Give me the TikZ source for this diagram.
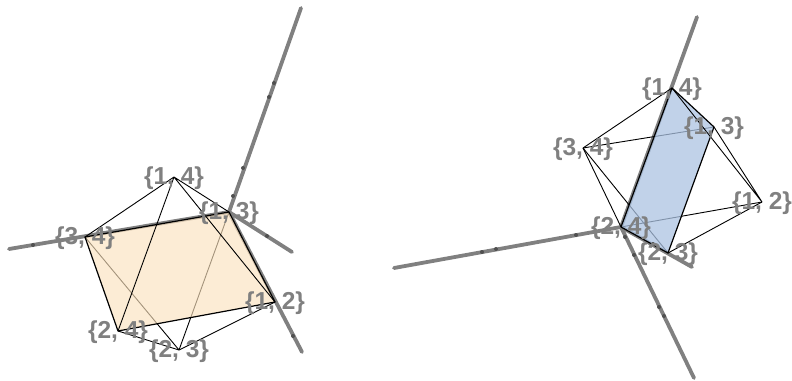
\documentclass[tikz,border=0pt]{standalone}
\usepackage{fontspec}
\setmainfont{Liberation Sans}
\usepackage{xcolor}
\usepackage{tikz}
\definecolor{axisgray}{RGB}{128,128,128}
\definecolor{dotgray}{RGB}{80,80,80}
\definecolor{lightorange}{RGB}{251,226,190}
\definecolor{lightblue}{RGB}{172,195,226}

\begin{document}
\begin{tikzpicture}[
    x=1pt, y=-1pt,
    axisline/.style={draw=axisgray, line width=3.8pt, line cap=round},
    edgeline/.style={draw=black, line width=0.9pt, line join=round},
    frontedge/.style={draw=black, line width=1.2pt, line join=round},
    vertexlabel/.style={font=\bfseries\fontsize{24.5}{24.5}\selectfont, text=axisgray,
                    inner sep=0pt, yshift=-1.5pt},
    axisdot/.style={fill=dotgray},
]
    \useasboundingbox (0,0) rectangle (792,380);
    % left solid
    \coordinate (la12) at (275,302);
    \coordinate (la13) at (229,212);
    \coordinate (la14) at (174,177);
    \coordinate (la23) at (179,350);
    \coordinate (la24) at (118,331);
    \coordinate (la34) at (85,237);
    \coordinate (laxtop) at (301,8);
    \coordinate (laxleft) at (9,249);
    \coordinate (laxright) at (292,252);
    \coordinate (laxdown) at (302,352);
    \draw[axisline] (la13) -- (laxtop);
    \draw[axisline] (la13) -- (laxleft);
    \draw[axisline] (la13) -- (laxright);
    \draw[axisline] (la13) -- (laxdown);
    \draw[edgeline] (la34) -- (la23) (la13) -- (la23);
    \fill[lightorange, fill opacity=0.65] (la34) -- (la13) -- (la12) -- (la24) -- cycle;
    \draw[frontedge] (la34) -- (la13) -- (la12) -- (la24) -- cycle;
    \draw[edgeline] (la14) -- (la34) (la14) -- (la13) (la14) -- (la12) (la14) -- (la24);
    \draw[edgeline] (la24) -- (la23) -- (la12);
    \foreach \px/\py in {274/83, 269/97, 243/168, 233/196, 33/245, 267/236, 293/336}
        \fill[axisdot] (\px,\py) circle (2);
    \foreach \v/\t in {la12/{1, 2}, la13/{1, 3}, la14/{1, 4}, la23/{2, 3}, la24/{2, 4}, la34/{3, 4}}
        \node[vertexlabel] (\v-label) at (\v) {\{\t\}};
    % right solid
    \coordinate (ra12) at (762,202);
    \coordinate (ra13) at (714,127);
    \coordinate (ra14) at (672,88);
    \coordinate (ra23) at (668,253);
    \coordinate (ra24) at (621,227);
    \coordinate (ra34) at (583,148);
    \coordinate (raxtop) at (697,17);
    \coordinate (raxleft) at (394,268);
    \coordinate (raxright) at (692,267);
    \coordinate (raxdown) at (694,378);
    \draw[axisline] (ra24) -- (raxtop);
    \draw[axisline] (ra24) -- (raxleft);
    \draw[axisline] (ra24) -- (raxright);
    \draw[axisline] (ra24) -- (raxdown);
    \draw[edgeline] (ra34) -- (ra13) (ra34) -- (ra23) (ra12) -- (ra24);
    \fill[lightblue, fill opacity=0.75] (ra14) -- (ra13) -- (ra23) -- (ra24) -- cycle;
    \draw[frontedge] (ra14) -- (ra13) -- (ra23) -- (ra24) -- cycle;
    \draw[edgeline] (ra34) -- (ra14) (ra34) -- (ra24) (ra12) -- (ra14) (ra12) -- (ra13) (ra12) -- (ra23);
    \foreach \px/\py in {482/252, 496/249, 576/235, 634/255, 659/307, 664/316, 625/237, 653/244}
        \fill[axisdot] (\px,\py) circle (2);
    \foreach \v/\t in {ra12/{1, 2}, ra13/{1, 3}, ra14/{1, 4}, ra23/{2, 3}, ra24/{2, 4}, ra34/{3, 4}}
        \node[vertexlabel] (\v-label) at (\v) {\{\t\}};
\end{tikzpicture}
\end{document}
